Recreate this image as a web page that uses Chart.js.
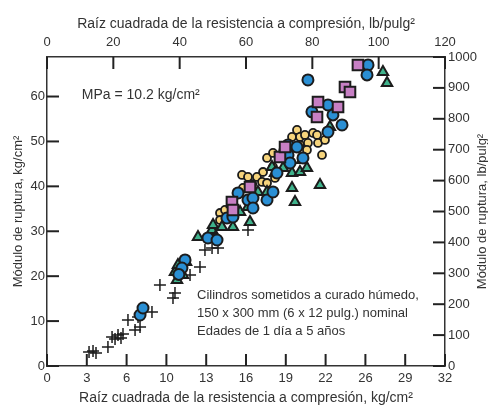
<!DOCTYPE html>
<html>
<head>
<meta charset="utf-8">
<script src="https://cdn.jsdelivr.net/npm/chart.js@4.4.1/dist/chart.umd.min.js"></script>
</head>
<body style="margin:0;background:#fff">
<canvas id="chart" width="488" height="407" style="width:488px;height:407px"></canvas>
<script>
// Etiquetas de los ejes
const ticksKg = [0, 3, 6, 10, 13, 16, 19, 22, 26, 29, 32];
const ticksPsi = [0, 20, 40, 60, 80, 100, 120];
const ticksRuptKg = [0, 10, 20, 30, 40, 50, 60];
const ticksRuptPsi = [0, 100, 200, 300, 400, 500, 600, 700, 800, 900, 1000];

// Puntos: [raíz de resistencia kg/cm², módulo de ruptura kg/cm²]
const cruces = [
    [3.38, 3.12], [3.70, 3.34], [3.94, 2.90], [4.90, 4.23], [5.23, 6.46], [5.47, 6.01],
    [5.71, 6.90], [5.95, 6.24], [6.11, 7.13], [6.51, 10.24], [7.08, 8.02], [7.48, 8.69],
    [7.32, 10.91], [8.44, 12.03], [9.08, 18.04], [10.13, 15.14], [10.29, 16.26],
    [11.50, 20.27], [12.30, 22.05], [12.70, 25.83], [13.27, 26.28], [13.75, 26.28], [16.16, 30.29]
];
const azules = [
    [7.48, 11.36], [7.72, 12.92], [11.10, 23.61], [10.85, 21.82], [12.94, 28.51], [13.67, 28.06],
    [14.47, 32.96], [14.95, 33.18], [15.36, 38.53], [16.16, 36.97], [16.56, 37.41], [16.56, 35.19],
    [17.69, 36.97], [18.17, 38.75], [18.49, 42.98], [19.38, 49.22], [19.38, 46.99], [19.54, 45.21],
    [20.10, 48.77], [20.58, 46.32], [22.59, 52.11], [22.99, 55.90], [23.72, 53.67], [22.59, 58.12],
    [20.98, 63.69], [25.81, 67.03], [25.73, 64.81], [10.60, 20.40], [21.30, 56.60]
];
const verdes = [
    [10.29, 20.93], [10.45, 19.15], [10.53, 22.49], [10.93, 20.27], [11.18, 23.16], [12.14, 28.73],
    [13.27, 30.29], [13.51, 28.51], [13.35, 31.40], [14.07, 30.96], [14.95, 30.96], [15.52, 34.30],
    [16.16, 35.41], [16.32, 32.07], [16.96, 38.75], [17.69, 38.75], [18.09, 44.32], [18.33, 42.98],
    [18.98, 44.09], [19.70, 42.98], [20.34, 43.20], [20.50, 45.88], [20.90, 44.09], [22.75, 53.23],
    [19.70, 39.64], [21.95, 40.31], [19.94, 36.52], [27.01, 65.47], [27.34, 63.02], [10.75, 22.00]
];
const amarillos = [
    [13.91, 34.07], [14.31, 34.74], [13.91, 32.51], [15.68, 42.54], [16.16, 42.09], [16.88, 42.09],
    [15.76, 39.64], [17.29, 40.98], [17.69, 40.75], [17.37, 43.20], [17.69, 46.32], [18.17, 47.44],
    [18.17, 44.32], [18.33, 41.87], [19.70, 51.00], [20.10, 52.56], [20.34, 51.00], [20.34, 49.22],
    [20.74, 51.44], [20.98, 49.66], [20.90, 48.10], [21.39, 51.89], [21.71, 51.44], [21.79, 49.66],
    [22.35, 50.33], [22.11, 46.99], [16.50, 40.50], [19.00, 48.00]
];
const morados = [
    [14.87, 36.52], [14.95, 34.74], [16.32, 39.86], [18.73, 46.54], [19.14, 48.77], [21.71, 55.45],
    [21.79, 58.79], [23.40, 57.68], [23.96, 62.13], [24.36, 61.02], [25.00, 67.03]
];

const nota = [
    'Cilindros sometidos a curado húmedo,',
    '150 x 300 mm (6 x 12 pulg.) nominal',
    'Edades de 1 día a 5 años'
];

const FUENTE = '"Liberation Sans", Arial, sans-serif';
const GRIS = '#333';
Chart.defaults.font.family = FUENTE;
Chart.defaults.color = GRIS;

const aPuntos = arr => arr.map(p => ({ x: p[0], y: p[1] }));
const borde = '#1c1c1c';

// Marcas hacia dentro, textos internos y título derecho (se lee de abajo hacia arriba)
const extras = {
    id: 'extras',
    afterDraw(chart) {
        const ctx = chart.ctx;
        const a = chart.chartArea;
        const sx = chart.scales.x, sx2 = chart.scales.x2, sy = chart.scales.y, sy2 = chart.scales.y2;
        const L = 12;
        ctx.save();
        ctx.setLineDash([]);
        ctx.globalAlpha = 1;
        ctx.strokeStyle = '#222';
        ctx.lineWidth = 2;
        ticksKg.forEach((t, i) => {
            const p = sx.getPixelForValue(i * 32 / (ticksKg.length - 1));
            ctx.beginPath(); ctx.moveTo(p, a.bottom); ctx.lineTo(p, a.bottom - L); ctx.stroke();
        });
        ticksPsi.forEach(t => {
            const p = sx2.getPixelForValue(t);
            ctx.beginPath(); ctx.moveTo(p, a.top); ctx.lineTo(p, a.top + L); ctx.stroke();
        });
        ticksRuptKg.forEach(t => {
            const p = sy.getPixelForValue(t);
            ctx.beginPath(); ctx.moveTo(a.left, p); ctx.lineTo(a.left + L, p); ctx.stroke();
        });
        ticksRuptPsi.forEach(t => {
            const p = sy2.getPixelForValue(t);
            ctx.beginPath(); ctx.moveTo(a.right, p); ctx.lineTo(a.right - L, p); ctx.stroke();
        });

        ctx.fillStyle = GRIS;
        ctx.textBaseline = 'middle';
        ctx.font = '14px ' + FUENTE;
        ctx.fillText('MPa = 10.2 kg/cm²', sx.getPixelForValue(2.8), sy.getPixelForValue(60.3));
        ctx.font = '13px ' + FUENTE;
        nota.forEach((t, i) => {
            ctx.fillText(t, sx.getPixelForValue(12.06), sy.getPixelForValue(15.8 - i * 4.0));
        });
        ctx.translate(chart.width - 6, (a.top + a.bottom) / 2);
        ctx.rotate(-Math.PI / 2);
        ctx.textAlign = 'center';
        ctx.fillText('Módulo de ruptura, lb/pulg²', 0, 0);
        ctx.restore();
    }
};

const rejilla = { display: false, drawTicks: true, tickLength: -12 };
const bordeEje = { display: true, color: GRIS, width: 1.5 };

new Chart(document.getElementById('chart'), {
    type: 'scatter',
    data: {
        datasets: [
            { label: 'Cuadrados', data: aPuntos(morados), pointStyle: 'rect', pointRadius: 7.5,
              backgroundColor: '#c77fc4', borderColor: borde, borderWidth: 2 },
            { label: 'Círculos', data: aPuntos(azules), pointStyle: 'circle', pointRadius: 5.5,
              backgroundColor: '#2a8fd4', borderColor: borde, borderWidth: 2 },
            { label: 'Triángulos', data: aPuntos(verdes), pointStyle: 'triangle', pointRadius: 6,
              backgroundColor: '#3fb38c', borderColor: borde, borderWidth: 2 },
            { label: 'Hexágonos', data: aPuntos(amarillos), pointStyle: 'circle', pointRadius: 4,
              backgroundColor: '#f6d47c', borderColor: borde, borderWidth: 1.8 },
            { label: 'Cruces', data: aPuntos(cruces), pointStyle: 'cross', pointRadius: 6,
              backgroundColor: borde, borderColor: borde, borderWidth: 1.5 },
        ]
    },
    options: {
        responsive: false,
        animation: false,
        layout: { padding: 0 },
        plugins: { legend: { display: false }, tooltip: { enabled: false } },
        scales: {
            x: {
                type: 'linear', position: 'bottom', min: 0, max: 32,
                afterBuildTicks: s => { s.ticks = ticksKg.map((t, i) => ({ value: i * 32 / (ticksKg.length - 1) })); },
                afterFit: s => { s.height = 41; },
                ticks: { font: { size: 13 }, padding: 17, maxRotation: 0,
                         callback: (v, i) => ticksKg[i] },
                grid: rejilla, border: bordeEje,
                title: { display: true, text: 'Raíz cuadrada de la resistencia a compresión, kg/cm²',
                         font: { size: 14 }, padding: { top: 0, bottom: 0 } }
            },
            x2: {
                type: 'linear', position: 'top', min: 0, max: 120,
                afterBuildTicks: s => { s.ticks = ticksPsi.map(v => ({ value: v })); },
                afterFit: s => { s.height = 57; },
                ticks: { font: { size: 13 }, padding: 19, maxRotation: 0 },
                grid: rejilla, border: bordeEje,
                title: { display: true, text: 'Raíz cuadrada de la resistencia a compresión, lb/pulg²',
                         font: { size: 14 }, padding: { top: 16, bottom: 0 } }
            },
            y: {
                type: 'linear', position: 'left', min: 0, max: 68.8,
                afterBuildTicks: s => { s.ticks = ticksRuptKg.map(v => ({ value: v })); },
                afterFit: s => { s.width = 47; },
                ticks: { font: { size: 13 }, padding: 14 },
                grid: rejilla, border: bordeEje,
                title: { display: true, text: 'Módulo de ruptura, kg/cm²',
                         font: { size: 13 }, padding: { top: 11, bottom: 0 } }
            },
            y2: {
                type: 'linear', position: 'right', min: 0, max: 1000,
                afterBuildTicks: s => { s.ticks = ticksRuptPsi.map(v => ({ value: v })); },
                afterFit: s => { s.width = 43; },
                ticks: { font: { size: 13 }, padding: 15, callback: v => String(v) },
                grid: rejilla, border: bordeEje
            }
        }
    },
    plugins: [extras]
});
</script>
</body>
</html>
